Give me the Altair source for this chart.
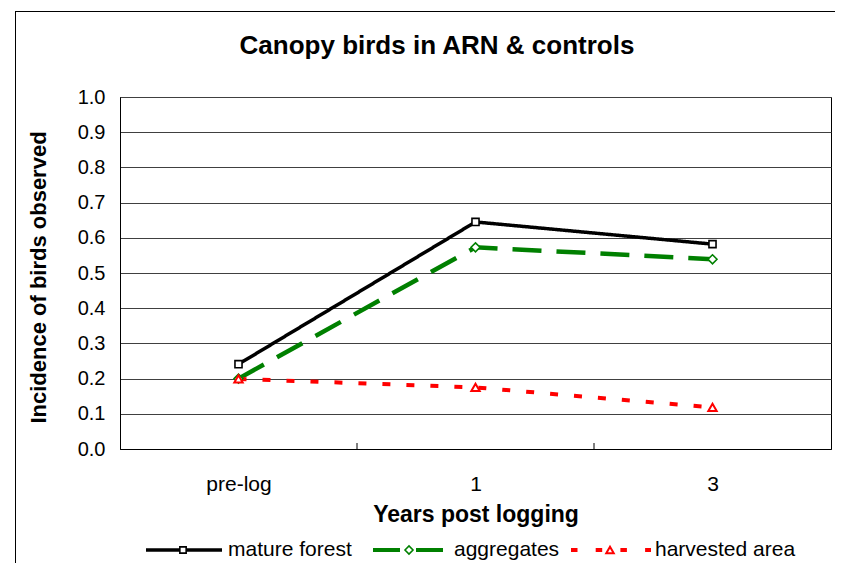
import altair as alt
import pandas as pd

# ---- data ----
years = ["pre-log", "1", "3"]
series_names = ["mature forest", "aggregates", "harvested area"]
mature_forest = [0.241, 0.645, 0.582]
aggregates = [0.200, 0.573, 0.539]
harvested_area = [0.199, 0.175, 0.118]
y_ticks = [0.0, 0.1, 0.2, 0.3, 0.4, 0.5, 0.6, 0.7, 0.8, 0.9, 1.0]
title_text = "Canopy birds in ARN & controls"
x_title = "Years post logging"
y_title = "Incidence of birds observed"

FONT = "Liberation Sans"
W, H = 711, 352

rows = []
for name, vals in zip(series_names, [mature_forest, aggregates, harvested_area]):
    for i, (yr, v) in enumerate(zip(years, vals)):
        rows.append({"series": name, "year": yr, "pos": i + 0.5, "value": v})
df = pd.DataFrame(rows)

styles = {
    "mature forest": dict(color="#000000", width=3.5, dash=[1, 0], shape="square", size=50, sw=1.6),
    "aggregates": dict(color="#008000", width=4.5, dash=[29, 15], shape="diamond", size=80, sw=1.6),
    "harvested area": dict(color="#FF0000", width=4, dash=[8, 16], shape="triangle-up", size=70, sw=2),
}

label_expr = "[" + ",".join("'" + y + "'" for y in years) + "][floor(datum.value)]"

x_enc = alt.X(
    "pos:Q",
    scale=alt.Scale(domain=[0, len(years)], nice=False, zero=False),
    axis=alt.Axis(
        values=[i + 0.5 for i in range(len(years))],
        labelExpr=label_expr,
        grid=False,
        ticks=False,
        domainColor="#000000",
        labelFont=FONT,
        labelFontSize=21,
        labelColor="#000000",
        labelPadding=24,
        title=x_title,
        titleFont=FONT,
        titleFontSize=23,
        titleFontWeight="bold",
        titleColor="#000000",
        titleBaseline="alphabetic",
        titleY=72,
    ),
)
y_enc = alt.Y(
    "value:Q",
    scale=alt.Scale(domain=[0, 1], nice=False),
    axis=alt.Axis(
        values=y_ticks,
        format=".1f",
        grid=True,
        gridColor="#404040",
        gridWidth=1,
        ticks=False,
        domainColor="#000000",
        labelFont=FONT,
        labelFontSize=20,
        labelColor="#000000",
        labelPadding=15,
        title=y_title,
        titleFont=FONT,
        titleFontSize=22,
        titleFontWeight="bold",
        titleColor="#000000",
        titleBaseline="alphabetic",
        titleAngle=270,
        titleX=-75,
        titleY=180,
        titleAlign="center",
    ),
)

base = alt.Chart(df)
layers = []

# boundary ticks (inward) at category edges
edges = pd.DataFrame({"edge": list(range(1, len(years)))})
layers.append(
    alt.Chart(edges).mark_rule(color="#000000", strokeWidth=1).encode(
        x=alt.X("edge:Q"), y=alt.value(H - 6), y2=alt.value(H)
    )
)

for name in series_names:
    s = styles[name]
    layers.append(
        base.transform_filter(alt.datum.series == name)
        .mark_line(color=s["color"], strokeWidth=s["width"], strokeDash=s["dash"])
        .encode(x=x_enc, y=y_enc)
    )
for name in series_names:
    s = styles[name]
    layers.append(
        base.transform_filter(alt.datum.series == name)
        .mark_point(shape=s["shape"], size=s["size"], filled=True, fill="white",
                    stroke=s["color"], strokeWidth=s["sw"], opacity=1)
        .encode(x=x_enc, y=y_enc)
    )

# title as text
tdf = pd.DataFrame({"t": [title_text]})
layers.append(
    alt.Chart(tdf).mark_text(font=FONT, fontSize=26, fontWeight="bold", color="#000000",
                             align="center", baseline="alphabetic")
    .encode(text="t:N", x=alt.value(317), y=alt.value(-43))
)

# outer frame (top and left edges)
layers.append(alt.Chart(tdf).mark_rule(color="#000000", strokeWidth=1).encode(
    x=alt.value(-104.5), y=alt.value(-86), y2=alt.value(470)))
layers.append(alt.Chart(tdf).mark_rule(color="#000000", strokeWidth=1).encode(
    x=alt.value(-104.5), x2=alt.value(720), y=alt.value(-85.5)))

# custom legend
LY = 453
legend_cfg = {
    "mature forest": dict(x1=26, x2=102, mk=63, tx=108, dash=[1, 0], w=3.5),
    "aggregates": dict(x1=253, x2=323, mk=289, tx=334, dash=[27, 16], w=4),
    "harvested area": dict(x1=451, x2=531, mk=490, tx=535, dash=[6.5, 18.2], w=4),
}
for name in series_names:
    s = styles[name]
    c = legend_cfg[name]
    ldf = pd.DataFrame({"name": [name]})
    layers.append(alt.Chart(ldf).mark_rule(color=s["color"], strokeWidth=c["w"], strokeDash=c["dash"]).encode(
        x=alt.value(c["x1"]), x2=alt.value(c["x2"]), y=alt.value(LY)))
    layers.append(alt.Chart(ldf).mark_point(shape=s["shape"], size=s["size"] * 0.8, filled=True, fill="white",
                                            stroke=s["color"], strokeWidth=s["sw"], opacity=1).encode(
        x=alt.value(c["mk"]), y=alt.value(LY)))
    layers.append(alt.Chart(ldf).mark_text(font=FONT, fontSize=21, color="#000000", align="left",
                                           baseline="alphabetic").encode(
        text="name:N", x=alt.value(c["tx"]), y=alt.value(LY + 6)))

chart = alt.layer(*layers).properties(
    width=W,
    height=H,
    autosize=alt.AutoSizeParams(type="none"),
    padding={"left": 112, "top": 89, "right": 4, "bottom": 114},
    background="white",
).configure_view(stroke="#000000", strokeWidth=1)

chart.save("out.html", embed_options={"renderer": "svg", "actions": False})
